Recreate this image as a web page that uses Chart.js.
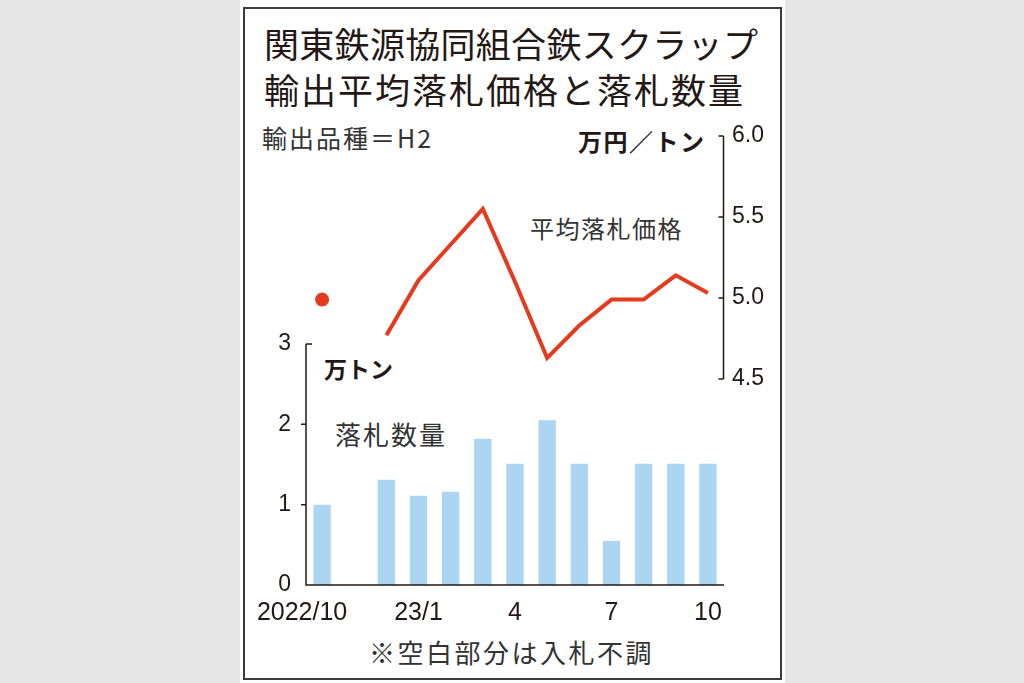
<!DOCTYPE html>
<html>
<head>
<meta charset="utf-8">
<script src="https://cdn.jsdelivr.net/npm/chart.js@4"></script>
<style>
  html, body { margin: 0; padding: 0; }
  body { width: 1024px; height: 683px; background: #e6e6e6; position: relative; overflow: hidden;
         font-family: "Noto Sans CJK JP", "Noto Sans", sans-serif; color: #231815; }
  #panel { position: absolute; left: 240px; top: 0; width: 545px; height: 683px; background: #fff; }
  #frame { position: absolute; left: 243px; top: 7px; width: 535px; height: 669px; border: 2px solid #3b3b3b; }
  .txt { position: absolute; white-space: nowrap; }
  #stockChart { position: absolute; left: 0; top: 0; }
</style>
</head>
<body>
<div id="panel"></div>
<div id="frame"></div>
<div class="txt" style="left:264px; top:23px; font-size:35px; line-height:40px; letter-spacing:0.3px;">関東鉄源協同組合鉄スクラップ</div>
<div class="txt" style="left:264px; top:69px; font-size:35px; line-height:40px; letter-spacing:2px;">輸出平均落札価格と落札数量</div>
<div class="txt" style="left:262px; top:123px; font-size:25px; line-height:28px; letter-spacing:2px; color:#333;">輸出品種＝H2</div>
<div class="txt" style="left:578px; top:127px; font-size:24px; line-height:28px; letter-spacing:1.5px; font-weight:bold;">万円／トン</div>
<div class="txt" style="left:530px; top:214px; font-size:24px; line-height:28px; letter-spacing:1.5px; color:#333;">平均落札価格</div>
<div class="txt" style="left:324px; top:354px; font-size:23px; line-height:28px; font-weight:bold;">万トン</div>
<div class="txt" style="left:335px; top:419px; font-size:26px; line-height:30px; letter-spacing:2px; color:#333;">落札数量</div>
<div class="txt" style="left:369px; top:637px; font-size:26px; line-height:30px; letter-spacing:2.5px; color:#333;">※空白部分は入札不調</div>
<canvas id="stockChart" width="1024" height="683"></canvas>
<script>
// 月（2022/10〜2023/10）
const months = ['2022/10', '11', '12', '23/1', '2', '3', '4', '5', '6', '7', '8', '9', '10'];
const monthLabels = ['2022/10', '', '', '23/1', '', '', '4', '', '', '7', '', '', '10'];
// 落札数量（万トン）、11月は入札不調
const volume = [1.0, null, 1.31, 1.11, 1.16, 1.82, 1.51, 2.05, 1.51, 0.55, 1.51, 1.51, 1.51];
// 平均落札価格（万円／トン）
const price = [4.99, null, 4.77, 5.11, 5.33, 5.55, 5.10, 4.63, 4.83, 4.99, 4.99, 5.14, 5.03];
const volumeTicks = [0, 1, 2, 3];
const priceTicks = [4.5, 5.0, 5.5, 6.0];

const ink = '#231815';
const red = '#e63a1e';
const blue = '#acd5f1';

// 軸線と月ラベルは手描き
const axisPlugin = {
  id: 'axisPlugin',
  afterDraw(chart) {
    const c = chart.ctx;
    const x = chart.scales.x, y = chart.scales.y, y2 = chart.scales.y2;
    const left = chart.chartArea.left, right = chart.chartArea.right;
    c.save();
    c.strokeStyle = ink;
    c.lineWidth = 1.5;
    // 左軸
    const y0 = y.getPixelForValue(0);
    c.beginPath();
    c.moveTo(left, y.getPixelForValue(3));
    c.lineTo(left, y0);
    c.lineTo(right, y0);
    c.stroke();
    c.beginPath();
    c.moveTo(left, y.getPixelForValue(3));
    c.lineTo(left + 6, y.getPixelForValue(3));
    [1, 2].forEach(v => {
      c.moveTo(left - 5, y.getPixelForValue(v));
      c.lineTo(left, y.getPixelForValue(v));
    });
    c.stroke();
    // 右軸
    const rx = right - 0.5;
    c.beginPath();
    c.moveTo(rx, y2.getPixelForValue(6.0));
    c.lineTo(rx, y2.getPixelForValue(4.5));
    priceTicks.forEach(v => {
      c.moveTo(rx - 5, y2.getPixelForValue(v));
      c.lineTo(rx, y2.getPixelForValue(v));
    });
    c.stroke();
    // 月ラベル
    c.fillStyle = ink;
    c.font = '25px "Liberation Sans", Arial, sans-serif';
    c.textAlign = 'center';
    c.textBaseline = 'middle';
    monthLabels.forEach((lab, i) => {
      if (!lab) return;
      let px = x.getPixelForValue(i);
      if (i === 0) px -= 20;
      c.fillText(lab, px, 613);
    });
    c.restore();
  }
};

const ctx = document.getElementById('stockChart').getContext('2d');
const stockChart = new Chart(ctx, {
  data: {
    labels: months,
    datasets: [{
      type: 'line',
      label: '平均落札価格',
      data: price,
      yAxisID: 'y2',
      borderColor: red,
      backgroundColor: red,
      borderWidth: 4,
      tension: 0,
      spanGaps: false,
      borderJoinStyle: 'miter',
      pointRadius: function (context) {
        const i = context.dataIndex;
        const d = context.dataset.data;
        const alone = (i === 0 || d[i - 1] == null) && (i === d.length - 1 || d[i + 1] == null);
        return alone ? 7 : 0;
      },
      pointBorderWidth: 0,
      order: 1,
    }, {
      type: 'bar',
      label: '落札数量',
      data: volume,
      yAxisID: 'y',
      backgroundColor: blue,
      barPercentage: 0.54,
      categoryPercentage: 1.0,
      order: 2,
    }],
  },
  options: {
    responsive: false,
    animation: false,
    layout: { padding: { left: 276, right: 230, top: 136, bottom: 98 } },
    plugins: {
      legend: { display: false },
      tooltip: { enabled: false },
    },
    scales: {
      x: {
        grid: { display: false, drawTicks: false },
        border: { display: false },
        ticks: { display: false },
        afterFit: s => { s.height = 0; },
      },
      y: {
        position: 'left',
        min: 0,
        max: 5.589,
        grid: { display: false, drawTicks: false },
        border: { display: false },
        afterBuildTicks: s => { s.ticks = volumeTicks.map(v => ({ value: v })); },
        afterFit: s => { s.width = 30; },
        ticks: {
          padding: 15,
          color: ink,
          font: { family: '"Liberation Sans", Arial, sans-serif', size: 23 },
        },
      },
      y2: {
        position: 'right',
        min: 3.228,
        max: 6.0,
        grid: { display: false, drawTicks: false },
        border: { display: false },
        afterBuildTicks: s => { s.ticks = priceTicks.map(v => ({ value: v })); },
        afterFit: s => { s.width = 70; },
        ticks: {
          padding: 8,
          color: ink,
          font: { family: '"Liberation Sans", Arial, sans-serif', size: 23 },
          callback: v => v.toFixed(1),
        },
      },
    },
  },
  plugins: [axisPlugin],
});
</script>
</body>
</html>
